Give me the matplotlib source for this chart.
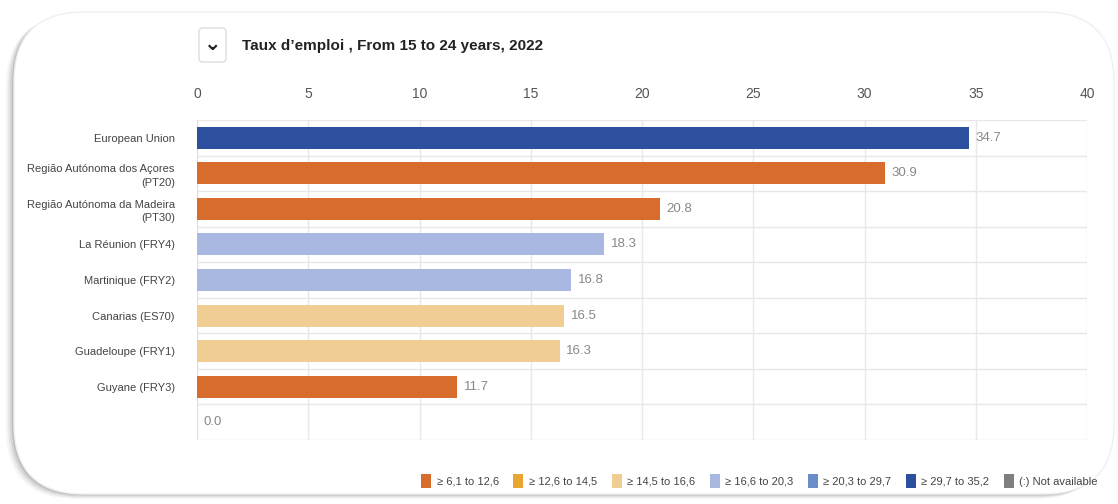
"""Horizontal bar chart: youth employment rate in outermost regions, 2022."""

import matplotlib
matplotlib.use('Agg')
import matplotlib.pyplot as plt
from matplotlib.patches import FancyBboxPatch, Patch

regions = ['European Union',
           'Região Autónoma dos Açores\n(PT20)',
           'Região Autónoma da Madeira\n(PT30)',
           'La Réunion (FRY4)',
           'Martinique (FRY2)',
           'Canarias (ES70)',
           'Guadeloupe (FRY1)',
           'Guyane (FRY3)',
           '']
values = [34.7, 30.9, 20.8, 18.3, 16.8, 16.5, 16.3, 11.7, 0.0]
# colour class shown in the map legend for each bar (index into class_labels)
bar_class = [5, 0, 0, 3, 3, 2, 2, 0, 6]

class_labels = ['≥ 6,1 to 12,6', '≥ 12,6 to 14,5', '≥ 14,5 to 16,6',
                '≥ 16,6 to 20,3', '≥ 20,3 to 29,7', '≥ 29,7 to 35,2',
                '(:) Not available']
class_colors = ['#d86c2c', '#e8a631', '#f0cd92', '#a9b8e0', '#6a8cc8',
                '#2c4f9e', '#7f7f7f']

plt.rcParams['font.family'] = ['Liberation Sans Narrow', 'Liberation Sans', 'DejaVu Sans']

fig = plt.figure(figsize=(11.18, 5.04), dpi=100)
fig.patch.set_facecolor('white')

# card with a soft shadow on the left / bottom
for off, alpha in [(8, 0.08), (6, 0.12), (4, 0.2), (2, 0.3)]:
    sh = FancyBboxPatch((14 - off, 10 - off * 0.6), 1100, 482,
                        boxstyle='round,pad=0,rounding_size=70',
                        transform=None, facecolor='#8a8a8a', alpha=alpha,
                        edgecolor='none', zorder=0)
    fig.patches.append(sh)
card = FancyBboxPatch((14, 10), 1100, 482,
                      boxstyle='round,pad=0,rounding_size=70',
                      transform=None, facecolor='white',
                      edgecolor='#f0f0f0', lw=1, zorder=1)
fig.patches.append(card)

ax = fig.add_axes([197 / 1118, 1 - 440 / 504, 890 / 1118, 320 / 504])
ax.set_zorder(2)
ax.patch.set_alpha(0)

ypos = list(range(len(regions)))
colors = [class_colors[c] if v > 0 else 'none' for c, v in zip(bar_class, values)]
ax.barh(ypos, values, height=0.62, color=colors, zorder=3)
for y, v in zip(ypos, values):
    ax.text(v + 0.3, y, f'{v:.1f}', va='center', ha='left',
            fontsize=9.5, color='#888888', zorder=4)

ax.set_xlim(0, 40)
ax.set_ylim(len(regions) - 0.5, -0.5)
ax.set_xticks(range(0, 41, 5))
ax.xaxis.tick_top()
ax.tick_params(axis='x', length=0, pad=14, labelsize=10, labelcolor='#555555')
ax.set_yticks(ypos)
ax.set_yticklabels(regions, fontsize=8, color='#444444', linespacing=1.4)
ax.tick_params(axis='y', length=0, pad=16)
for y in [i - 0.5 for i in range(len(regions) + 1)]:
    ax.axhline(y, color='#e8e8e8', lw=1, zorder=1)
for x in range(0, 41, 5):
    ax.axvline(x, color='#e8e8e8', lw=1, zorder=1)
ax.axvline(0, color='#d6dbe8', lw=1.2, zorder=2)
for s in ax.spines.values():
    s.set_visible(False)

# dropdown button + title
btn = FancyBboxPatch((199, 504 - 62), 27, 34,
                     boxstyle='round,pad=0,rounding_size=4', transform=None,
                     facecolor='white', edgecolor='#dddddd', lw=1, zorder=3)
fig.patches.append(btn)
fig.text(212.5 / 1118, 1 - 44 / 504, '⌄', ha='center', va='center',
         fontsize=15, fontweight='bold', color='#222222',
         family='DejaVu Sans')
fig.text(242 / 1118, 1 - 46 / 504, 'Taux d’emploi , From 15 to 24 years, 2022',
         ha='left', va='center', fontsize=11, fontweight='bold',
         color='#222222')

handles = [Patch(facecolor=c, edgecolor='none') for c in class_colors]
fig.legend(handles, class_labels, loc='center right', ncol=7,
           bbox_to_anchor=(1108 / 1118, 1 - 481 / 504), frameon=False,
           fontsize=8, handlelength=0.9, handleheight=1.6,
           handletextpad=0.5, columnspacing=1.3, labelcolor='#444444')

fig.savefig('out.png', dpi=100, facecolor='white')
